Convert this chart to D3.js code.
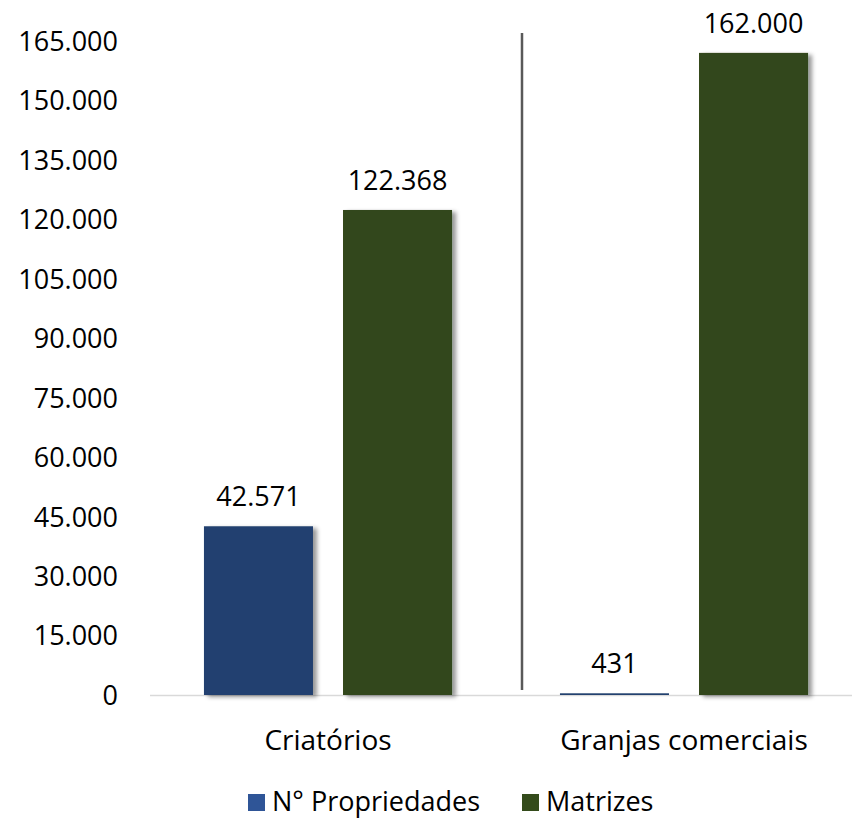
<!DOCTYPE html>
<html>
<head>
<meta charset="utf-8">
<script src="https://cdn.jsdelivr.net/npm/d3@7"></script>
<style>
  html, body { margin: 0; padding: 0; background: #fff; }
  svg text { font-family: "Open Sans", "Liberation Sans", sans-serif; fill: #000; }
</style>
</head>
<body>
<svg id="chart" width="852" height="819"></svg>
<script>
const categories = ["Criatórios", "Granjas comerciais"];
const seriesNames = ["N° Propriedades", "Matrizes"];
const propriedades = [42571, 431];
const matrizes = [122368, 162000];
const yTicks = [0, 15000, 30000, 45000, 60000, 75000, 90000, 105000, 120000, 135000, 150000, 165000];

const barColors = ["#23416F", "#32461A"];
const legendColors = ["#2F5597", "#344B1B"];

const W = 852, H = 819;
const margin = { left: 150, right: -10, top: 41, bottom: 124 };
const svg = d3.select("#chart");

const defs = svg.append("defs");
const f = defs.append("filter").attr("id", "shadow").attr("x", "-20%").attr("y", "-5%").attr("width", "140%").attr("height", "115%");
f.append("feDropShadow").attr("dx", 4).attr("dy", 2).attr("stdDeviation", 2.2).attr("flood-color", "#000").attr("flood-opacity", 0.4);

const x = d3.scaleBand().domain(categories).range([margin.left, W - margin.right]).paddingInner(0).paddingOuter(0);
const x1 = d3.scaleBand().domain(seriesNames).range([0, x.bandwidth()]).paddingInner(0.216).paddingOuter(0.388);
const y = d3.scaleLinear().domain([0, 165000]).range([H - margin.bottom, margin.top]);

const fmt = v => d3.format(",")(v).replace(/,/g, ".");

// baseline
svg.append("line")
  .attr("x1", margin.left).attr("x2", W)
  .attr("y1", y(0) + 0.5).attr("y2", y(0) + 0.5)
  .attr("stroke", "#d9d9d9").attr("stroke-width", 1.5);

// y axis labels
const yAxis = d3.axisLeft(y).tickValues(yTicks).tickFormat(fmt).tickSize(0).tickPadding(0);
const ya = svg.append("g").attr("transform", `translate(118,0)`).call(yAxis);
ya.select(".domain").remove();
ya.selectAll("text").style("font-size", "27px").attr("dy", "0.35em").attr("font-family", null);

const data = categories.map((c, i) => ({ cat: c, vals: [propriedades[i], matrizes[i]] }));

const groups = svg.selectAll("g.cat").data(data).join("g").attr("class", "cat")
  .attr("transform", d => `translate(${x(d.cat)},0)`);

groups.selectAll("rect").data(d => d.vals.map((v, j) => ({ v, s: seriesNames[j], j })))
  .join("rect")
  .attr("x", d => x1(d.s))
  .attr("width", x1.bandwidth())
  .attr("y", d => y(d.v))
  .attr("height", d => Math.max(1, y(0) - y(d.v)))
  .attr("fill", d => barColors[d.j])
  .attr("filter", d => d.v > 1000 ? "url(#shadow)" : null);

groups.selectAll("text.val").data(d => d.vals.map((v, j) => ({ v, s: seriesNames[j], j })))
  .join("text").attr("class", "val")
  .attr("x", d => x1(d.s) + x1.bandwidth() / 2)
  .attr("y", d => y(d.v) - 20)
  .attr("text-anchor", "middle")
  .style("font-size", "27px")
  .text(d => fmt(d.v));

// separator line between groups
const sepX = x(categories[1]) + 16;
svg.append("line")
  .attr("x1", sepX).attr("x2", sepX)
  .attr("y1", y(165000) - 8).attr("y2", y(0) - 5)
  .attr("stroke", "#595959").attr("stroke-width", 2.5);

// category labels
svg.selectAll("text.cat").data(categories).join("text").attr("class", "cat")
  .attr("x", d => x(d) + x.bandwidth() / 2)
  .attr("y", y(0) + 55)
  .attr("text-anchor", "middle")
  .style("font-size", "28px")
  .text(d => d);

// legend
const legend = svg.append("g").attr("transform", "translate(248,802)");
const items = [{ name: seriesNames[0], c: legendColors[0], dx: 0 }, { name: seriesNames[1], c: legendColors[1], dx: 274 }];
items.forEach(it => {
  const g = legend.append("g").attr("transform", `translate(${it.dx},0)`);
  g.append("rect").attr("x", 0).attr("y", -8).attr("width", 17).attr("height", 17).attr("fill", it.c);
  g.append("text").attr("x", 24).attr("y", 0).attr("dy", "0.35em").style("font-size", "27px").text(it.name);
});
</script>
</body>
</html>
